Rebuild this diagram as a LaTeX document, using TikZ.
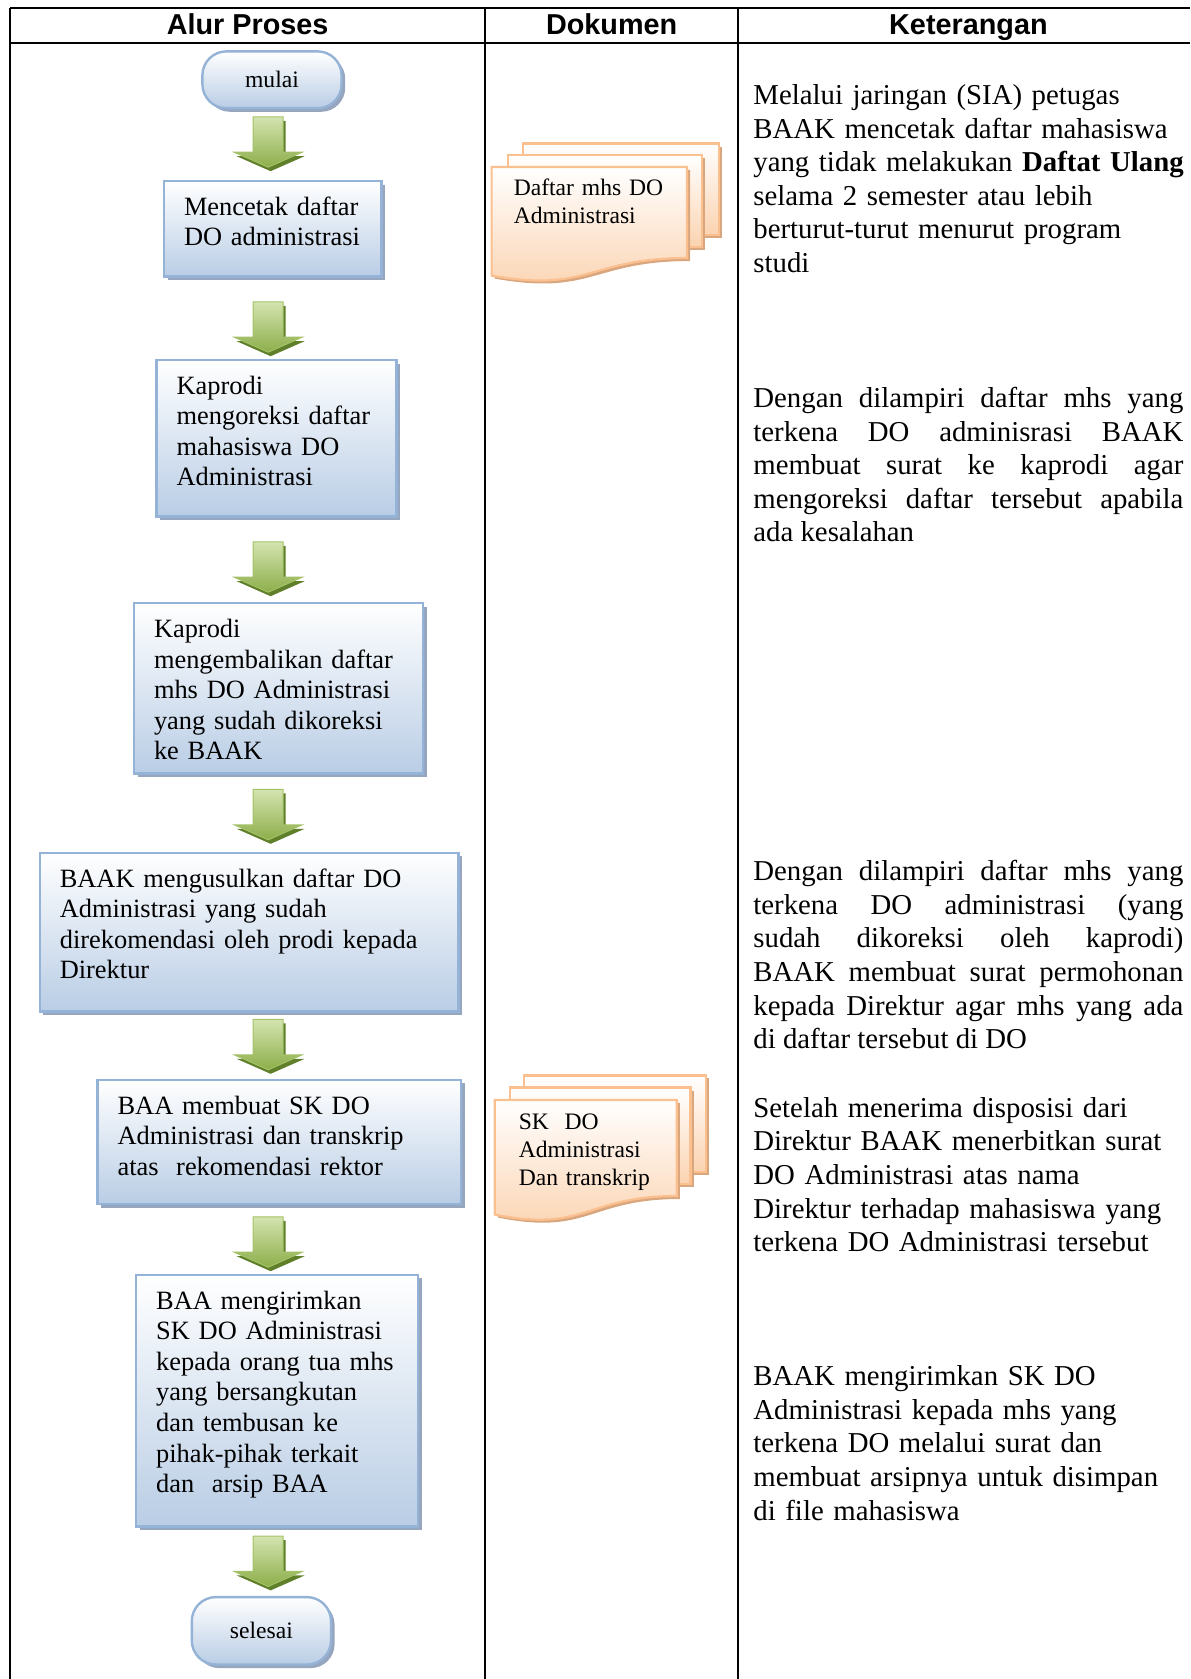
\documentclass[tikz,border=0pt]{standalone}
\usepackage{fontspec}
\setmainfont{Liberation Serif}
\newfontfamily\headfont{Liberation Sans}
\usetikzlibrary{shadows}

\definecolor{boxline}{HTML}{95B3D7}
\definecolor{boxfill}{HTML}{B9CDE5}
\definecolor{boxshade}{HTML}{96A6BE}
\definecolor{arrowtop}{HTML}{D4E4B0}
\definecolor{arrowbot}{HTML}{8DAE4A}
\definecolor{arrowline}{HTML}{A3C266}
\definecolor{arrowshade}{HTML}{5F7F2A}
\definecolor{docline}{HTML}{FAC090}
\definecolor{docfill}{HTML}{FBD3B0}
\definecolor{docshade}{HTML}{D9A67E}

\hyphenpenalty=10000
\exhyphenpenalty=10000
\tolerance=9999
\hbadness=10000

\tikzset{
	tabline/.style={line width=1pt},
	head/.style={anchor=base, inner sep=0pt, font=\headfont\bfseries\fontsize{14.4}{16}\selectfont},
	proc/.style={rectangle, draw=boxline, line width=1.2pt, top color=white, bottom color=boxfill,
		drop shadow={shadow xshift=1.8pt, shadow yshift=-1.8pt, fill=boxshade, opacity=1},
		anchor=north west, align=left, inner xsep=10pt, inner ysep=0pt, text height=17.1pt,
		font=\fontsize{13.2}{15.3}\selectfont},
	term/.style={rectangle, rounded corners=12pt, draw=boxline, line width=1.2pt, top color=white, bottom color=boxfill,
		drop shadow={shadow xshift=1.8pt, shadow yshift=-1.8pt, fill=boxshade, opacity=1},
		minimum width=69.6pt, font=\fontsize{11.8}{13.6}\selectfont},
	doctext/.style={anchor=base west, text width=80pt, align=left, inner sep=0pt, font=\fontsize{11.8}{13.9}\selectfont},
	note/.style={anchor=base west, inner sep=0pt, text width=222pt, align=left, font=\fontsize{14.4}{16.8}\selectfont},
	notej/.style={note, text width=215pt, align=justify},
	docpage/.style={draw=docline, line width=1.1pt, top color=white, bottom color=docfill,
		drop shadow={shadow xshift=1.5pt, shadow yshift=-1.5pt, fill=docshade, opacity=1}},
	flowarrow/.style={draw=arrowline, line width=0.5pt, top color=arrowtop, bottom color=arrowbot,
		drop shadow={shadow xshift=1.2pt, shadow yshift=-2pt, fill=arrowshade, opacity=1}},
}

\begin{document}
\begin{tikzpicture}[x=1pt, y=-1pt]

\useasboundingbox (0,0) rectangle (595,839.5);

% table frame
\draw[tabline] (5.2,3.8) -- (595,3.8);
\draw[tabline] (5.2,21.3) -- (595,21.3);
\draw[tabline] (5.2,3.8) -- (5.2,839.5);
\draw[tabline] (242.6,3.8) -- (242.6,839.5);
\draw[tabline] (369.0,3.8) -- (369.0,839.5);

\node (hAlur) [head] at (123.8, 17.4) {Alur Proses};
\node (hDok) [head] at (305.8, 17.4) {Dokumen};
\node (hKet) [head] at (484.2, 17.4) {Keterangan};

% flow column
\node (mulai) [term, minimum height=28.4pt] at (136.0, 39.9) {mulai};
\node (cetak) [proc, text width=88.7pt, text depth=30.6pt] at (81.4, 90.0) {Mencetak daftar\\DO administrasi};
\node (koreksi) [proc, text width=100pt, text depth=61.1pt] at (77.7, 179.4) {Kaprodi\\mengoreksi daftar\\mahasiswa DO\\Administrasi};
\node (kembali) [proc, text width=124.6pt, text depth=68.1pt] at (66.4, 301.0) {Kaprodi\\mengembalikan daftar\\mhs DO Administrasi\\yang sudah dikoreksi\\ke BAAK};
\node (usul) [proc, text width=189.4pt, text depth=62.2pt] at (19.3, 425.8) {BAAK mengusulkan daftar DO\\Administrasi yang sudah\\direkomendasi oleh prodi kepada\\Direktur};
\node (buatsk) [proc, text width=161.8pt, text depth=45.0pt] at (48.2, 539.3) {BAA membuat SK DO\\Administrasi dan transkrip\\atas~~rekomendasi rektor};
\node (kirim) [proc, text width=120.9pt, text depth=108.8pt] at (67.5, 636.8) {BAA mengirimkan\\SK DO Administrasi\\kepada orang tua mhs\\yang bersangkutan\\dan tembusan ke\\pihak-pihak terkait\\dan~~arsip BAA};
\node (selesai) [term, minimum height=33.7pt] at (130.7, 815.4) {selesai};

\def\arrowX{134.1}
\newcommand{\DrawFlowArrow}[1]{
	\path[flowarrow] (\arrowX-7.5,#1) -- (\arrowX+7.5,#1) -- (\arrowX+7.5,#1+17.7) -- (\arrowX+17,#1+17.7)
		-- (\arrowX,#1+25.2) -- (\arrowX-17,#1+17.7) -- (\arrowX-7.5,#1+17.7) -- cycle;
}
\foreach \y in {58.4,150.9,270.9,394.7,509.7,608.4,768.0}
	\DrawFlowArrow{\y};

% document stacks: x, y, width, height
\newcommand{\DrawDocStack}[4]{
	\begin{scope}[shift={(#1,#2)}, x=#3pt, y=-#4pt]
		\path[docpage] (0.1376,0) rectangle (1,0.666);
		\path[docpage] (0.0709,0.084) rectangle (0.926,0.752);
		\path[docpage] (0,0.170) -- (0.861,0.170) -- (0.861,0.834)
			.. controls (0.4305,0.834) and (0.4305,1.09) .. (0,0.962) -- cycle;
	\end{scope}
}
\DrawDocStack{245.8}{71.8}{113.5}{68.6}
\DrawDocStack{247.4}{537.7}{105.7}{72.3}

\node (doc1) [doctext] at (256.7, 98.0) {Daftar mhs DO\\Administrasi};
\node (doc2) [doctext] at (259.2, 564.7) {SK~~DO\\Administrasi\\Dan transkrip};

% notes column
\node (ket1) [note] at (376.5, 52.3) {Melalui jaringan (SIA) petugas\\BAAK mencetak daftar mahasiswa\\yang tidak melakukan \textbf{Daftat Ulang}\\selama 2 semester atau lebih\\berturut-turut menurut program\\studi};
\node (ket2) [notej] at (376.5, 203.8) {Dengan dilampiri daftar mhs yang\linebreak terkena DO adminisrasi BAAK\linebreak membuat surat ke kaprodi agar\linebreak mengoreksi daftar tersebut apabila\linebreak ada kesalahan};
\node (ket3) [notej] at (376.5, 440.3) {Dengan dilampiri daftar mhs yang\linebreak terkena DO administrasi (yang\linebreak sudah dikoreksi oleh kaprodi)\linebreak BAAK membuat surat permohonan\linebreak kepada Direktur agar mhs yang ada\linebreak di daftar tersebut di DO};
\node (ket4) [note] at (376.5, 558.6) {Setelah menerima disposisi dari\\Direktur BAAK menerbitkan surat\\DO Administrasi atas nama\\Direktur terhadap mahasiswa yang\\terkena DO Administrasi tersebut};
\node (ket5) [note] at (376.5, 692.8) {BAAK mengirimkan SK DO\\Administrasi kepada mhs yang\\terkena DO melalui surat dan\\membuat arsipnya untuk disimpan\\di file mahasiswa};

\end{tikzpicture}
\end{document}
